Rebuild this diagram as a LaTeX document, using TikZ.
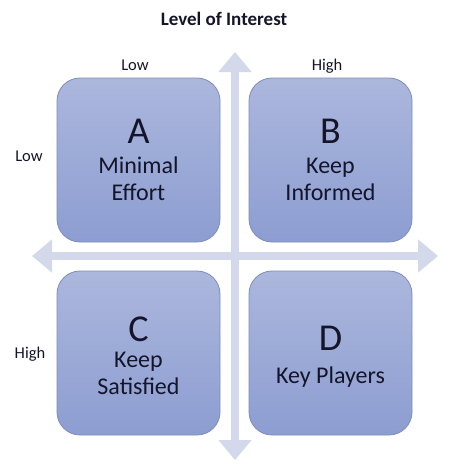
\documentclass[tikz,border=0pt]{standalone}
\usepackage{fontspec}
\setmainfont{Carlito}
\usetikzlibrary{arrows.meta}
\definecolor{axiscol}{HTML}{D3D8EA}
\definecolor{boxtop}{HTML}{ACB7DD}
\definecolor{boxbot}{HTML}{8C9DD1}
\definecolor{boxedge}{HTML}{7F8DBA}
\definecolor{txt}{HTML}{15152A}
\tikzset{
  quad/.style={draw=boxedge, line width=0.8pt, rounded corners=23pt, top color=boxtop, bottom color=boxbot, minimum width=163pt, minimum height=164pt, inner sep=0pt},
  axisarrow/.style={draw=axiscol, line width=8pt, {Triangle[width=32pt,length=20pt,fill=axiscol]}-{Triangle[width=32pt,length=20pt,fill=axiscol]}},
  letter/.style={font=\fontsize{38}{40}\selectfont, text=txt, anchor=base, inner sep=0pt},
  desc/.style={font=\fontsize{24}{27}\selectfont, text=txt, anchor=base, inner sep=0pt},
  axlabel/.style={font=\fontsize{16.5}{19}\selectfont, text=txt, anchor=base, inner sep=0pt},
}
\begin{document}
\begin{tikzpicture}[x=1pt,y=-1pt]
\useasboundingbox (0,0) rectangle (474,474);
\fill[white] (0,0) rectangle (474,474);
% axes
\coordinate (vtop) at (235,52);
\coordinate (vbot) at (235,460);
\coordinate (hleft) at (32,256);
\coordinate (hright) at (438,256);
\draw[axisarrow] (vbot) -- (vtop);
\draw[axisarrow] (hleft) -- (hright);
% boxes
\node[quad] (qa) at (138.5,160) {};
\node[quad] (qb) at (330.5,160) {};
\node[quad] (qc) at (138.5,353) {};
\node[quad] (qd) at (330.5,353) {};
% texts
\node[letter] (la) at (138.5,143) {A};
\node[desc] (da1) at (138.5,173) {Minimal};
\node[desc] (da2) at (138.5,200) {Effort};
\node[letter] (lb) at (330.5,143) {B};
\node[desc] (db1) at (330.5,173) {Keep};
\node[desc] (db2) at (330.5,200) {Informed};
\node[letter] (lc) at (138.5,341) {C};
\node[desc] (dc1) at (138.5,367) {Keep};
\node[desc] (dc2) at (138.5,394) {Satisfied};
\node[letter] (ld) at (330.5,350) {D};
\node[desc] (dd) at (330.5,383) {Key Players};
% labels
\node[font=\bfseries\fontsize{19}{22}\selectfont, text=txt, anchor=base, inner sep=0pt] (title) at (224,25) {Level of Interest};
\node[axlabel] (tlow) at (135,70) {Low};
\node[axlabel] (thigh) at (327,70) {High};
\node[axlabel] (slow) at (29,161.5) {Low};
\node[axlabel] (shigh) at (30,358) {High};
\end{tikzpicture}
\end{document}
